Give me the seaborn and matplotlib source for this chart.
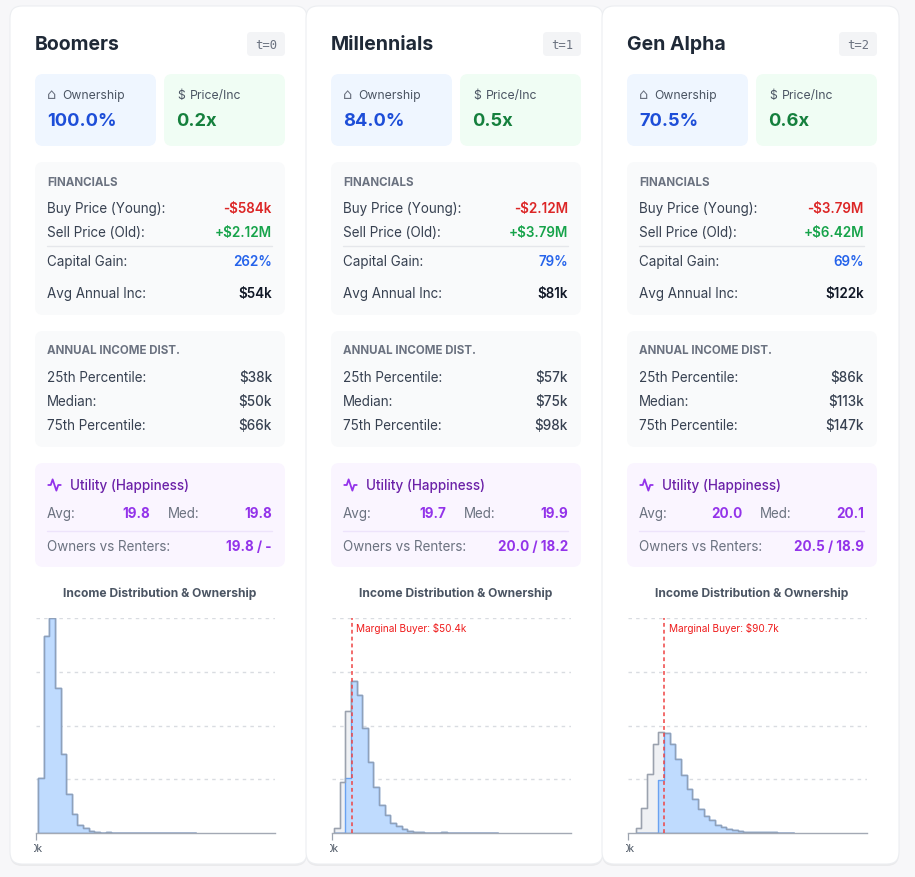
import numpy as np
import pandas as pd
import seaborn as sns
import matplotlib
matplotlib.use("Agg")
from matplotlib import pyplot as plt
from matplotlib.patches import FancyBboxPatch
from matplotlib.transforms import Bbox

sns.set_theme(style="white")
plt.rcParams["font.family"] = ["Inter", "DejaVu Sans"]

W, H = 915, 878

GENERATIONS = ["Boomers", "Millennials", "Gen Alpha"]
TIME_STEPS = ["t=0", "t=1", "t=2"]
OWNERSHIP = ["100.0%", "84.0%", "70.5%"]
PRICE_INC = ["0.2x", "0.5x", "0.6x"]
BUY_PRICE = ["-$584k", "-$2.12M", "-$3.79M"]
SELL_PRICE = ["+$2.12M", "+$3.79M", "+$6.42M"]
CAPITAL_GAIN = ["262%", "79%", "69%"]
AVG_INCOME = ["$54k", "$81k", "$122k"]
P25 = ["$38k", "$57k", "$86k"]
MEDIAN = ["$50k", "$75k", "$113k"]
P75 = ["$66k", "$98k", "$147k"]
UTIL_AVG = ["19.8", "19.7", "20.0"]
UTIL_MED = ["19.8", "19.9", "20.1"]
UTIL_OWN_RENT = ["19.8 / -", "20.0 / 18.2", "20.5 / 18.9"]
MARGINAL_BUYER = [None, 50.4, 90.7]  # $k

# income histograms ($k): first bin edge, bin width, x-axis max
BIN_START = [6.0, 5.1, 19.3]
BIN_WIDTH = [17.0, 14.5, 14.3]
X_MAX = [720, 614, 603]
Y_MAX = 800
ALL_COUNTS = [
    [204, 734, 800, 541, 295, 144, 71, 31, 17, 7, 3, 1, 2, 1, 1,
     0, 0, 0, 0, 0, 0, 0, 0, 0, 0, 0, 0, 0],
    [20, 188, 454, 566, 513, 390, 266, 173, 105, 67, 37, 25, 14, 7, 4,
     2, 1, 1, 1, 4, 1, 0, 0, 0, 0, 0, 0, 0, 0],
    [19, 93, 220, 332, 376, 372, 332, 275, 217, 165, 125, 90, 63, 48, 31,
     22, 16, 12, 7, 5, 4, 4, 2, 2, 2, 1, 1, 0],
]
OWNER_COUNTS = [
    [204, 734, 800, 541, 295, 144, 71, 31, 17, 7, 3, 1, 2, 1, 1,
     0, 0, 0, 0, 0, 0, 0, 0, 0, 0, 0, 0, 0],
    [0, 0, 204, 566, 513, 390, 266, 173, 105, 67, 37, 25, 14, 7, 4,
     2, 1, 1, 1, 4, 1, 0, 0, 0, 0, 0, 0, 0, 0],
    [0, 0, 0, 0, 196, 372, 332, 275, 217, 165, 125, 90, 63, 48, 31,
     22, 16, 12, 7, 5, 4, 4, 2, 2, 2, 1, 1, 0],
]

LABEL = "#4b5563"
MUTED = "#6b7280"
ROW = 9.7


def rbox(cv, x0, y0, x1, y1, fc, r=8, ec="none", lw=0, z=1):
    p = FancyBboxPatch(
        (x0 + r, y0 + r), x1 - x0 - 2 * r, y1 - y0 - 2 * r,
        boxstyle=f"round,pad={r}", fc=fc, ec=ec, lw=lw, zorder=z,
    )
    cv.add_patch(p)


def txt(cv, x, y, s, size=9, color=LABEL, weight="normal", ha="left", **kw):
    # small downward nudge: va="center" includes the descender box
    cv.text(x, y + 1.5, s, fontsize=size, color=color, weight=weight, ha=ha, va="center",
            zorder=5, **kw)


def draw_hist(ax, counts, start, width, **kws):
    n = len(counts)
    df = pd.DataFrame({
        "income": start + width * (np.arange(n) + 0.5),
        "households": np.asarray(counts, dtype=float),
    })
    sns.histplot(data=df, x="income", weights="households", binwidth=width,
                 binrange=(start, start + n * width), element="step", fill=True, ax=ax, **kws)


fig = plt.figure(figsize=(W / 100, H / 100), dpi=100, facecolor="#f7f7f9")
cv = fig.add_axes([0, 0, 1, 1])
cv.set_xlim(0, W)
cv.set_ylim(H, 0)
cv.axis("off")

for i, gen in enumerate(GENERATIONS):
    ox = 296 * i
    # card + shadow
    rbox(cv, 10 + ox, 9, 307 + ox, 867, (0, 0, 0, 0.05), r=12, z=0)
    rbox(cv, 10 + ox, 7, 307 + ox, 865, "white", r=12, ec="#eceef1", lw=0.8, z=0.5)

    txt(cv, 35 + ox, 44, gen, size=14, color="#1f2937", weight="bold")
    rbox(cv, 247 + ox, 33, 285 + ox, 57, "#f3f4f6", r=4, z=1)
    txt(cv, 266 + ox, 44, TIME_STEPS[i], size=8.8, color=MUTED, ha="center", family="DejaVu Sans Mono")

    # headline boxes
    rbox(cv, 35 + ox, 75, 156 + ox, 147, "#eff6ff", r=8)
    txt(cv, 47 + ox, 93, "⌂", size=10.5, color=MUTED, family="DejaVu Sans")
    txt(cv, 62 + ox, 94, "Ownership", size=8.8, color=LABEL)
    txt(cv, 47 + ox, 120, OWNERSHIP[i], size=13.2, color="#1d4ed8", weight="bold")
    rbox(cv, 164 + ox, 75, 285 + ox, 147, "#f0fdf4", r=8)
    txt(cv, 177 + ox, 94, "$", size=8.8, color=LABEL)
    txt(cv, 190 + ox, 94, "Price/Inc", size=8.8, color=LABEL)
    txt(cv, 176 + ox, 120, PRICE_INC[i], size=13.2, color="#15803d", weight="bold")

    # financials
    rbox(cv, 35 + ox, 163, 285 + ox, 316, "#f9fafb", r=8)
    txt(cv, 47 + ox, 181, "FINANCIALS", size=8.3, color=MUTED, weight="bold")
    fin_rows = [
        (208, "Buy Price (Young):", BUY_PRICE[i], "#dc2626"),
        (232, "Sell Price (Old):", SELL_PRICE[i], "#16a34a"),
        (261, "Capital Gain:", CAPITAL_GAIN[i], "#2563eb"),
        (293, "Avg Annual Inc:", AVG_INCOME[i], "#111827"),
    ]
    for y, lab, val, col in fin_rows:
        txt(cv, 47 + ox, y, lab, size=ROW, color="#374151")
        txt(cv, 272 + ox, y, val, size=ROW, color=col, weight="semibold", ha="right")
    cv.plot([47 + ox, 272 + ox], [247, 247], color="#e5e7eb", lw=1, zorder=4)

    # income distribution
    rbox(cv, 35 + ox, 332, 285 + ox, 448, "#f9fafb", r=8)
    txt(cv, 47 + ox, 350, "ANNUAL INCOME DIST.", size=8.3, color=MUTED, weight="bold")
    for y, lab, val in [(377, "25th Percentile:", P25[i]), (401, "Median:", MEDIAN[i]),
                        (425, "75th Percentile:", P75[i])]:
        txt(cv, 47 + ox, y, lab, size=ROW, color="#374151")
        txt(cv, 272 + ox, y, val, size=ROW, color="#374151", weight="medium", ha="right")

    # utility
    rbox(cv, 35 + ox, 464, 285 + ox, 568, "#faf5ff", r=8)
    pts = np.array([(2, 12), (6, 12), (9, 3), (15, 21), (18, 12), (22, 12)], dtype=float)
    cv.plot(47 + ox + pts[:, 0] * 15 / 24, 478.5 + pts[:, 1] * 15 / 24, color="#9333ea",
            lw=1.3, solid_joinstyle="round", zorder=5)
    txt(cv, 70 + ox, 485, "Utility (Happiness)", size=ROW, color="#6b21a8", weight="medium")
    txt(cv, 47 + ox, 513, "Avg:", size=ROW, color=MUTED)
    txt(cv, 150 + ox, 513, UTIL_AVG[i], size=ROW, color="#9333ea", weight="bold", ha="right")
    txt(cv, 168 + ox, 513, "Med:", size=ROW, color=MUTED)
    txt(cv, 272 + ox, 513, UTIL_MED[i], size=ROW, color="#9333ea", weight="bold", ha="right")
    cv.plot([47 + ox, 272 + ox], [532, 532], color="#ede3fb", lw=1, zorder=4)
    txt(cv, 47 + ox, 546, "Owners vs Renters:", size=ROW, color=MUTED)
    txt(cv, 272 + ox, 546, UTIL_OWN_RENT[i], size=ROW, color="#9333ea", weight="bold", ha="right")

    # chart
    txt(cv, 160 + ox, 592, "Income Distribution & Ownership", size=8.7, color=LABEL,
        weight="bold", ha="center")
    left, right, top, bottom = 36 + ox, 275 + ox, 619, 834
    ax = fig.add_axes([left / W, 1 - bottom / H, (right - left) / W, (bottom - top) / H])
    ax.patch.set_alpha(0)
    ax.set_zorder(2)

    draw_hist(ax, ALL_COUNTS[i], BIN_START[i], BIN_WIDTH[i], color="#a3a9b4",
              facecolor="#eff1f4", edgecolor="#a3a9b4", linewidth=1.0)
    draw_hist(ax, OWNER_COUNTS[i], BIN_START[i], BIN_WIDTH[i], color="#6aa2f0",
              facecolor="#bfdbfe", edgecolor="#6aa2f0", linewidth=1.0)
    draw_hist(ax, ALL_COUNTS[i], BIN_START[i], BIN_WIDTH[i], color="#9aa1ad",
              facecolor="none", edgecolor=(0.6, 0.63, 0.68, 0.8), linewidth=1.0)

    if MARGINAL_BUYER[i] is not None:
        mb = MARGINAL_BUYER[i]
        ax.axvline(mb, color="#ef4444", ls=(0, (2.5, 2)), lw=1.1, zorder=6)
        ax.annotate(f"Marginal Buyer: ${mb}k", xy=(mb, 0.955), xycoords=("data", "axes fraction"),
                    xytext=(3.5, 0), textcoords="offset points", fontsize=7.2,
                    color="#ef1c1c", va="center", ha="left")

    ax.set_xlim(0, X_MAX[i])
    ax.set_ylim(0, Y_MAX)
    ax.set_yticks([200, 400, 600, 800])
    ax.yaxis.grid(True, linestyle=(0, (2.5, 3)), color="#d9dce1", lw=1)
    ax.set_axisbelow(True)
    ax.set_xticks([0])
    ax.set_xticklabels(["0k"])
    ax.tick_params(axis="x", length=5, width=0.9, color="#9ca3af", labelsize=7.4,
                   labelcolor=LABEL, pad=2, bottom=True)
    ax.tick_params(axis="y", left=False, labelleft=False)
    ax.set_xlabel("")
    ax.set_ylabel("")
    for side in ["top", "right", "left"]:
        ax.spines[side].set_visible(False)
    ax.spines["bottom"].set_color("#a3a9b4")
    ax.spines["bottom"].set_linewidth(1.0)
    clip = Bbox([[left - 2, 0], [right + 20, H]])
    for lbl in ax.get_xticklabels():
        lbl.set_clip_box(clip)
        lbl.set_clip_on(True)

fig.savefig("out.png", dpi=100, facecolor=fig.get_facecolor())
